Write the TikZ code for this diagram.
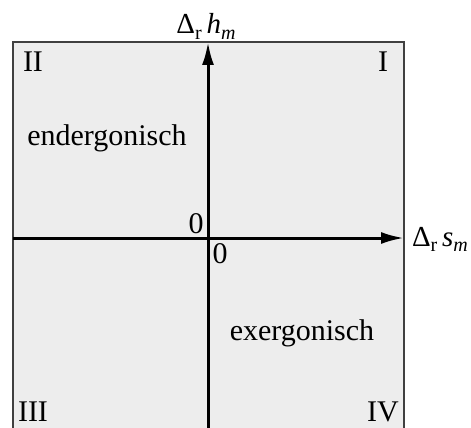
\documentclass[tikz,border=0pt]{standalone}
\usepackage{fontspec}
\setmainfont{Liberation Serif}
\usepackage{tikz}
\usetikzlibrary{arrows.meta,positioning}

\newcommand{\sublab}[1]{\raisebox{-0.2em}{\fontsize{20}{20}\selectfont #1}}

\begin{document}
\begin{tikzpicture}[
    x=1pt, y=-1pt,
    axis/.style={line width=3pt, -{Latex[length=23pt,width=12pt]}},
    quadtext/.style={anchor=base, inner sep=0pt, font=\fontsize{30}{30}\selectfont},
    axislabel/.style={anchor=base, inner sep=0pt, font=\fontsize{29}{29}\selectfont}
]
\useasboundingbox (0,0) rectangle (471,428);
\fill[black!7] (13,42) rectangle (404,440);
\draw[black!75, line width=1.5pt] (13,440) -- (13,42) -- (404,42) -- (404,440);

\coordinate (ybot) at (208,428);
\coordinate (ytop) at (208,42);
\coordinate (xleft) at (13,238);
\coordinate (xright) at (404,238);

\draw[axis] (ybot) -- (ytop);
\draw[axis] (xleft) -- (xright);

\node[axislabel] (H) at (206,34) {Δ\sublab{r}\,\textit{h}\sublab{\textit{m}}};
\node[axislabel] (S) at (440,246) {Δ\sublab{r}\,\textit{s}\sublab{\textit{m}}};

\node[quadtext] (Z1) at (196,233) {0};
\node[quadtext] (Z2) at (220,263) {0};

\node[quadtext] (Q2) at (33,71) {II};
\node[quadtext] (Q1) at (383,71) {I};
\node[quadtext] (Q3) at (33,421) {III};
\node[quadtext] (Q4) at (383,421) {IV};

\node[quadtext] (endo) at (107,145) {endergonisch};
\node[quadtext] (exo) at (302,340) {exergonisch};
\end{tikzpicture}
\end{document}
